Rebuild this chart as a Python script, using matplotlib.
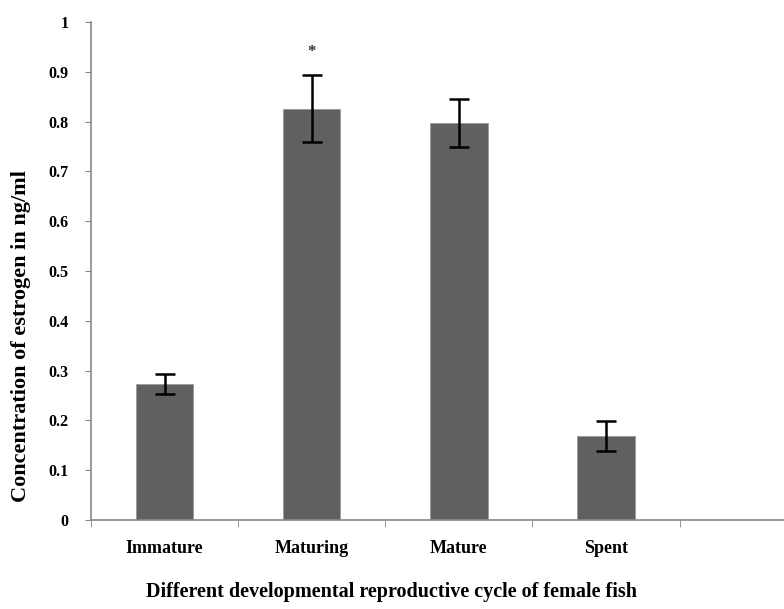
import numpy as np
import matplotlib.pyplot as plt

categories = ['Immature', 'Maturing', 'Mature', 'Spent']
values = [0.273, 0.826, 0.797, 0.168]
errors = [0.02, 0.068, 0.048, 0.03]
yticks = [0, 0.1, 0.2, 0.3, 0.4, 0.5, 0.6, 0.7, 0.8, 0.9, 1]
ytick_labels = ['0', '0.1', '0.2', '0.3', '0.4', '0.5', '0.6', '0.7', '0.8', '0.9', '1']

plt.rcParams['font.family'] = ['Liberation Serif', 'DejaVu Serif']
plt.rcParams['font.weight'] = 'bold'

fig = plt.figure(figsize=(7.84, 6.09), dpi=100)
ax = fig.add_axes([0.116, 0.146, 0.884, 0.818])

x = np.arange(len(categories))
ax.bar(x, values, width=0.39, color='#606060', edgecolor='#9a9a9a', linewidth=0.6,
       yerr=errors, capsize=7, error_kw=dict(ecolor='black', elinewidth=1.8, capthick=1.8))
ax.text(1, 0.94, '*', ha='center', va='center', fontsize=12, color='#333333')

ax.set_yticks(yticks)
ax.set_yticklabels(ytick_labels, fontsize=11.5, fontweight='bold')
ax.set_xticks(x)
ax.set_xticklabels(categories, fontsize=13, fontweight='bold')
ax.set_xticks(np.arange(-0.5, 4.6, 1), minor=True)
ax.set_xlim(-0.5, 4.21)
ax.set_ylim(0, 1)

ax.tick_params(axis='x', which='major', length=0, pad=14)
ax.tick_params(axis='x', which='minor', length=5, color='#888888')
ax.tick_params(axis='y', length=4, color='#888888', pad=12)

for side in ['top', 'right']:
    ax.spines[side].set_visible(False)
for side in ['left', 'bottom']:
    ax.spines[side].set_color('#888888')
    ax.spines[side].set_linewidth(1.2)

ax.set_ylabel('Concentration of estrogen in ng/ml', fontsize=16, fontweight='bold')
ax.yaxis.set_label_coords(-0.086, 0.37)
ax.set_xlabel('Different developmental reproductive cycle of female fish', fontsize=14.5,
              fontweight='bold')
ax.xaxis.set_label_coords(0.434, -0.125)

fig.savefig('out.png', dpi=100)
